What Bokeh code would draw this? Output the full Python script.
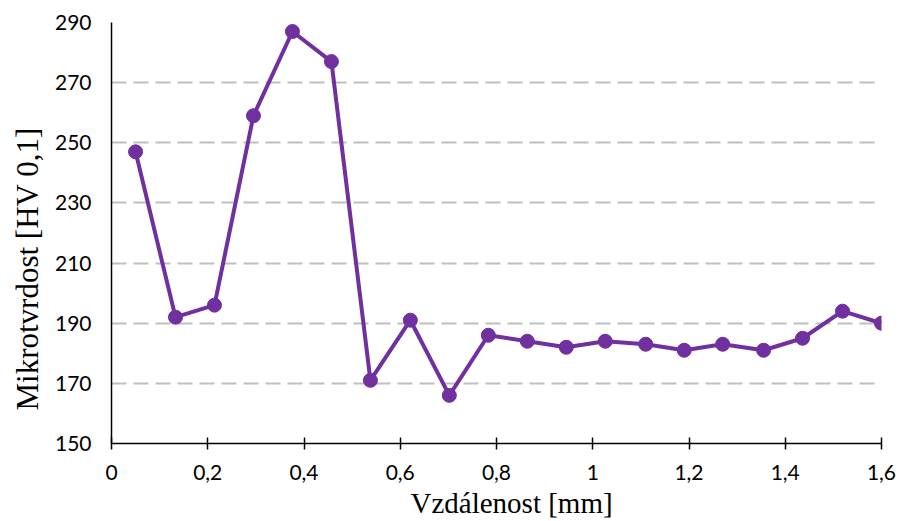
from bokeh.plotting import figure
from bokeh.models import Range1d, FixedTicker, CustomJSTickFormatter, Title
from bokeh.embed import file_html
from bokeh.resources import INLINE

# Data
vzdalenost = [0.05, 0.133, 0.214, 0.295, 0.376, 0.457, 0.538, 0.621, 0.702, 0.783,
              0.864, 0.945, 1.026, 1.11, 1.19, 1.27, 1.355, 1.436, 1.519, 1.6]
mikrotvrdost = [247, 192, 196, 259, 287, 277, 171, 191, 166, 186,
                184, 182, 184, 183, 181, 183, 181, 185, 194, 190]
x_ticks = [0, 0.2, 0.4, 0.6, 0.8, 1.0, 1.2, 1.4, 1.6]
y_ticks = [150, 170, 190, 210, 230, 250, 270, 290]
x_title = "Vzdálenost [mm]"
y_title = "Mikrotvrdost [HV 0,1]"

purple = "#7030A0"

p = figure(width=899, height=521, frame_width=770, frame_height=421,
           output_backend="svg", toolbar_location=None,
           x_range=Range1d(0, 1.6), y_range=Range1d(150, 290),
           min_border_left=111, min_border_right=18, min_border_top=22, min_border_bottom=78)
p.outline_line_color = None
p.background_fill_color = "white"
p.border_fill_color = "white"

p.xgrid.grid_line_color = None
p.ygrid.grid_line_color = "#BFBFBF"
p.ygrid.grid_line_width = 2
p.ygrid.grid_line_dash = "15 7"
p.ygrid.ticker = FixedTicker(ticks=y_ticks)

p.xaxis.ticker = FixedTicker(ticks=x_ticks)
p.yaxis.ticker = FixedTicker(ticks=y_ticks)
fmt = CustomJSTickFormatter(code="return (Math.round(tick*10)/10).toString().replace('.', ',');")
p.xaxis.formatter = fmt

for ax in (p.xaxis, p.yaxis):
    ax.axis_line_color = "black"
    ax.axis_line_width = 1.5
    ax.major_label_text_font = "Lato"
    ax.major_label_text_font_size = "21px"
    ax.major_label_text_color = "black"
    ax.minor_tick_line_color = None

p.xaxis.major_tick_line_color = "black"
p.xaxis.major_tick_line_width = 1.5
p.xaxis.major_tick_in = 6
p.xaxis.major_tick_out = 6
p.xaxis.major_label_standoff = 15

p.yaxis.major_tick_line_color = None
p.yaxis.major_tick_in = 0
p.yaxis.major_tick_out = 0
p.yaxis.major_label_standoff = 20

p.line(vzdalenost, mikrotvrdost, line_color=purple, line_width=4)
p.scatter(vzdalenost, mikrotvrdost, size=14, fill_color=purple, line_color=purple)

# Axis titles as side titles, offset along the axis like the reference
p.add_layout(Title(text=x_title, align="left", offset=299, standoff=4,
                   vertical_align="bottom", text_line_height=0.75,
                   text_font="Liberation Serif", text_font_size="29px",
                   text_font_style="normal", text_color="black"), "below")
p.add_layout(Title(text=y_title, align="left", offset=33, standoff=14,
                   text_font="Liberation Serif", text_font_size="31px",
                   text_font_style="normal", text_color="black"), "left")

open("out.html", "w").write(file_html(p, INLINE))
